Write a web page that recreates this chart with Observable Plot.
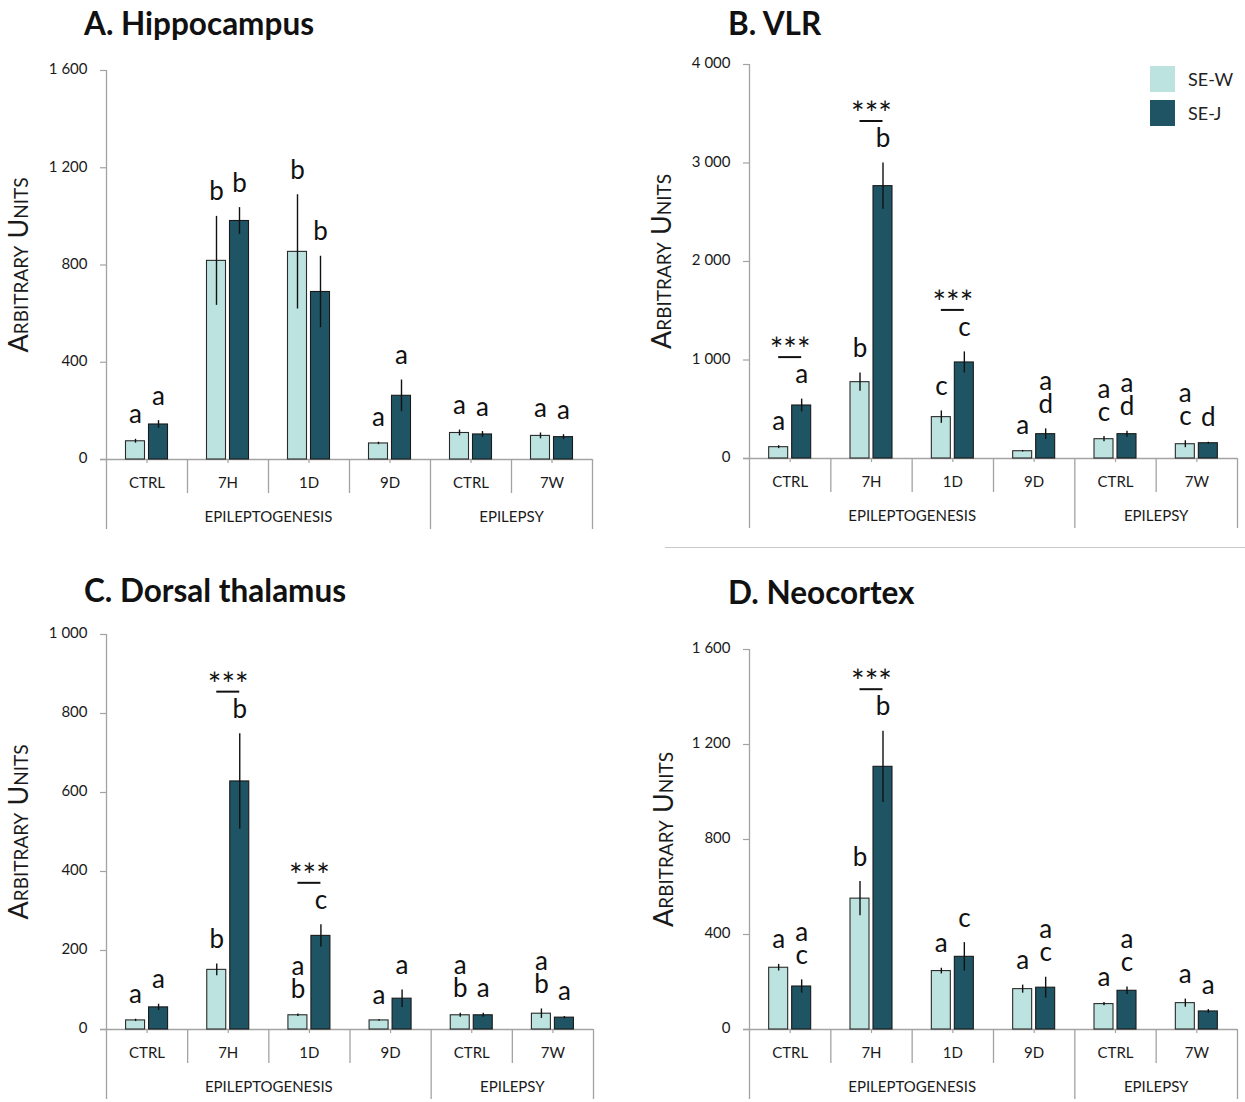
<!DOCTYPE html>
<html><head><meta charset="utf-8">
<script src="https://cdn.jsdelivr.net/npm/d3@7"></script>
<script src="https://cdn.jsdelivr.net/npm/@observablehq/plot@0.6"></script>
<style>
body{margin:0;background:#fff;font-family:Lato, "Noto Sans", sans-serif;}
#root{position:relative;width:1245px;height:1102px;overflow:hidden;background:#fff;}
.panel{position:absolute;}
.title{position:absolute;font-weight:bold;font-size:31.5px;color:#111;white-space:nowrap;line-height:1;}
.sw{position:absolute;width:25px;height:26px;}
.lg{position:absolute;font-size:18px;color:#222;line-height:1;white-space:nowrap;}
.hr{position:absolute;height:0;border-top:1.3px solid #c8c8c8;}
</style></head><body><div id="root"></div>
<script>
// ---- shared categories ----
const groups = ["CTRL_E", "7H", "1D", "9D", "CTRL_P", "7W"];
const groupLabels = ["CTRL", "7H", "1D", "9D", "CTRL", "7W"];
const phases = ["EPILEPTOGENESIS", "EPILEPSY"];
const phaseSpans = [4, 2];
const seriesNames = ["SE-W", "SE-J"];
const seriesColors = ["#bde3e0", "#1f5465"];

// ---- A. Hippocampus ----
const hippoW = [75, 817, 854, 66, 109, 97];
const hippoWErr = [8, 183, 235, 5, 12, 12];
const hippoJ = [144, 981, 689, 262, 103, 92];
const hippoJErr = [16, 55, 147, 65, 12, 10];
const hippoWLetters = ["a", "b", "b", "a", "a", "a"];
const hippoJLetters = ["a", "b", "b", "a", "a", "a"];
const hippoSig = ["", "", "", "", "", ""];
const hippoTicks = [0, 400, 800, 1200, 1600];

// ---- B. VLR ----
const vlrW = [115, 775, 420, 74, 196, 145];
const vlrWErr = [15, 92, 63, 8, 27, 35];
const vlrJ = [538, 2765, 975, 247, 247, 155];
const vlrJErr = [65, 235, 107, 54, 30, 10];
const vlrWLetters = ["a", "b", "c", "a", "a\nc", "a\nc"];
const vlrJLetters = ["a", "b", "c", "a\nd", "a\nd", "d"];
const vlrSig = ["***", "***", "***", "", "", ""];
const vlrTicks = [0, 1000, 2000, 3000, 4000];

// ---- C. Dorsal thalamus ----
const thalW = [23, 151, 36, 23, 36, 40];
const thalWErr = [3, 15, 3, 2, 5, 12];
const thalJ = [56, 628, 237, 78, 36, 30];
const thalJErr = [8, 121, 28, 22, 5, 3];
const thalWLetters = ["a", "b", "a\nb", "a", "a\nb", "a\nb"];
const thalJLetters = ["a", "b", "c", "a", "a", "a"];
const thalSig = ["", "***", "***", "", "", ""];
const thalTicks = [0, 200, 400, 600, 800, 1000];

// ---- D. Neocortex ----
const neoW = [260, 551, 246, 170, 107, 111];
const neoWErr = [14, 72, 12, 17, 7, 17];
const neoJ = [181, 1106, 306, 176, 163, 76];
const neoJErr = [28, 150, 60, 44, 16, 8];
const neoWLetters = ["a", "b", "a", "a", "a", "a"];
const neoJLetters = ["a\nc", "b", "c", "a\nc", "a\nc", "a"];
const neoSig = ["", "***", "", "", "", ""];
const neoTicks = [0, 400, 800, 1200, 1600];

const root = document.getElementById("root");
const axisColor = "#a3a3a3";
const textColor = "#1a1a1a";
const fmt = d => d3.format(",")(d).replace(/,/g, " ");

function panel(o) {
  const {left, top, width, height, mt, ml, mr, mb, ymax, ticks, W, WE, J, JE, WL, JL, sig, title, titleLeft, titleTop} = o;
  const frameW = width - ml - mr;
  const frameH = height - mt - mb;
  const bw = frameW / groups.length;
  const half = bw / 2;
  const off = 11.5;
  const wData = groups.map((g, i) => ({g, v: W[i], e: WE[i], l: WL[i]}));
  const jData = groups.map((g, i) => ({g, v: J[i], e: JE[i], l: JL[i]}));
  const sigData = groups.map((g, i) => ({g, s: sig[i], top: J[i] + JE[i]})).filter(d => d.s);
  // phase label anchors: boundary at the middle of each phase span
  let start = 0;
  const phaseData = phases.map((p, k) => {
    const g = groups[start + phaseSpans[k] / 2 - 1];
    start += phaseSpans[k];
    return {p, g};
  });
  const phaseEnds = [];
  start = 0;
  phaseSpans.forEach(s => { start += s; phaseEnds.push(groups[start - 1]); });
  const shortSeps = groups.filter((g, i) => i > 0 && !phaseEnds.includes(groups[i - 1]));
  const longSepsLeft = groups.filter((g, i) => i > 0 && phaseEnds.includes(groups[i - 1]));

  const chart = Plot.plot({
    width, height, marginTop: mt, marginLeft: ml, marginRight: mr, marginBottom: mb,
    style: {fontFamily: "Lato, 'Noto Sans', sans-serif", background: "transparent", overflow: "visible", color: textColor},
    x: {domain: groups, padding: 0, round: false, axis: null},
    y: {domain: [0, ymax], axis: null},
    marks: [
      // y axis line + left long separator
      Plot.ruleX([groups[0]], {x: d => d, dx: -half, insetBottom: -70, stroke: axisColor, strokeWidth: 1.3}),
      // short category separators
      Plot.ruleX(shortSeps, {x: d => d, dx: -half, insetTop: frameH, insetBottom: -34, stroke: axisColor, strokeWidth: 1.3}),
      // long phase separators
      Plot.ruleX(longSepsLeft, {x: d => d, dx: -half, insetTop: frameH, insetBottom: -70, stroke: axisColor, strokeWidth: 1.3}),
      Plot.ruleX([groups[groups.length - 1]], {x: d => d, dx: half, insetTop: frameH, insetBottom: -70, stroke: axisColor, strokeWidth: 1.3}),
      // small ticks at group centers
      Plot.ruleX(groups, {x: d => d, insetTop: frameH, insetBottom: -4, stroke: axisColor, strokeWidth: 1.2}),
      // y ticks
      Plot.ruleY(ticks, {y: d => d, insetLeft: -6, insetRight: frameW, stroke: axisColor, strokeWidth: 1.2}),
      // x axis line
      Plot.ruleY([0], {y: d => d, insetLeft: -6, stroke: axisColor, strokeWidth: 1.3}),
      // tick labels
      Plot.text(ticks, {y: d => d, text: fmt, frameAnchor: "left", dx: -19, dy: -1, textAnchor: "end", lineAnchor: "middle", fontSize: 15, fill: textColor}),
      // category labels
      Plot.text(groups, {x: d => d, text: (d, i) => groupLabels[i], frameAnchor: "bottom", dy: 24, lineAnchor: "middle", fontSize: 15, fill: textColor}),
      // phase labels
      Plot.text(phaseData, {x: "g", text: "p", frameAnchor: "bottom", dx: half, dy: 58, lineAnchor: "middle", fontSize: 15, fill: textColor}),
      // y label
      Plot.text(["Arbitrary Units"], {text: d => d, frameAnchor: "left", textAnchor: "middle", lineAnchor: "middle", rotate: -90, dx: o.labelDx, fontSize: 27, fontVariant: "small-caps", fill: textColor}),
      // bars
      Plot.barY(wData, {x: "g", y: "v", fill: seriesColors[0], stroke: "#2a2a2a", strokeWidth: 1.1, insetLeft: half - 21, insetRight: half + 2}),
      Plot.barY(jData, {x: "g", y: "v", fill: seriesColors[1], stroke: "#1a1a1a", strokeWidth: 1.1, insetLeft: half + 2, insetRight: half - 21}),
      // error bars
      Plot.ruleX(wData, {x: "g", y1: d => d.v - d.e, y2: d => d.v + d.e, dx: -off, stroke: "#111", strokeWidth: 1.4}),
      Plot.ruleX(jData, {x: "g", y1: d => d.v - d.e, y2: d => d.v + d.e, dx: off, stroke: "#111", strokeWidth: 1.4}),
      // letters
      Plot.text(wData, {x: "g", y: d => d.v + d.e, text: "l", dx: -off, dy: -16, lineAnchor: "bottom", lineHeight: 0.88, fontSize: 26, fill: "#111"}),
      Plot.text(jData, {x: "g", y: d => d.v + d.e, text: "l", dx: off, dy: -16, lineAnchor: "bottom", lineHeight: 0.88, fontSize: 26, fill: "#111"}),
      // significance
      Plot.tickY(sigData, {x: "g", y: "top", dy: -42, insetLeft: half - off, insetRight: half - off, stroke: "#111", strokeWidth: 2}),
      Plot.text(sigData, {x: "g", y: "top", text: "s", dy: -48, lineAnchor: "middle", fontSize: 32, fill: "#111"})
    ]
  });
  const div = document.createElement("div");
  div.className = "panel";
  div.style.left = left + "px";
  div.style.top = top + "px";
  div.appendChild(chart);
  root.appendChild(div);
  const t = document.createElement("div");
  t.className = "title";
  t.textContent = title;
  t.style.left = titleLeft + "px";
  t.style.top = titleTop + "px";
  root.appendChild(t);
}

panel({left: 0, top: 0, width: 600, height: 545, mt: 70, ml: 106, mr: 8, mb: 86, ymax: 1600, ticks: hippoTicks,
  W: hippoW, WE: hippoWErr, J: hippoJ, JE: hippoJErr, WL: hippoWLetters, JL: hippoJLetters, sig: hippoSig,
  title: "A. Hippocampus", titleLeft: 84, titleTop: 8, labelDx: -87});
panel({left: 640, top: 0, width: 605, height: 545, mt: 64, ml: 109, mr: 8, mb: 87, ymax: 4000, ticks: vlrTicks,
  W: vlrW, WE: vlrWErr, J: vlrJ, JE: vlrJErr, WL: vlrWLetters, JL: vlrJLetters, sig: vlrSig,
  title: "B. VLR", titleLeft: 728, titleTop: 8, labelDx: -87});
panel({left: 0, top: 560, width: 600, height: 542, mt: 74, ml: 106, mr: 7, mb: 73, ymax: 1000, ticks: thalTicks,
  W: thalW, WE: thalWErr, J: thalJ, JE: thalJErr, WL: thalWLetters, JL: thalJLetters, sig: thalSig,
  title: "C. Dorsal thalamus", titleLeft: 84, titleTop: 575, labelDx: -87});
panel({left: 640, top: 560, width: 605, height: 542, mt: 89, ml: 109, mr: 8, mb: 73, ymax: 1600, ticks: neoTicks,
  W: neoW, WE: neoWErr, J: neoJ, JE: neoJErr, WL: neoWLetters, JL: neoJLetters, sig: neoSig,
  title: "D. Neocortex", titleLeft: 728, titleTop: 577, labelDx: -85});

// legend (panel B)
seriesNames.forEach((name, i) => {
  const s = document.createElement("div");
  s.className = "sw";
  s.style.left = "1150px";
  s.style.top = (66 + i * 34) + "px";
  s.style.background = seriesColors[i];
  root.appendChild(s);
  const l = document.createElement("div");
  l.className = "lg";
  l.textContent = name;
  l.style.left = "1188px";
  l.style.top = (70 + i * 34) + "px";
  root.appendChild(l);
});
// divider line between right panels
const hr = document.createElement("div");
hr.className = "hr";
hr.style.left = "665px";
hr.style.top = "547px";
hr.style.width = "580px";
root.appendChild(hr);
</script>
</body></html>
